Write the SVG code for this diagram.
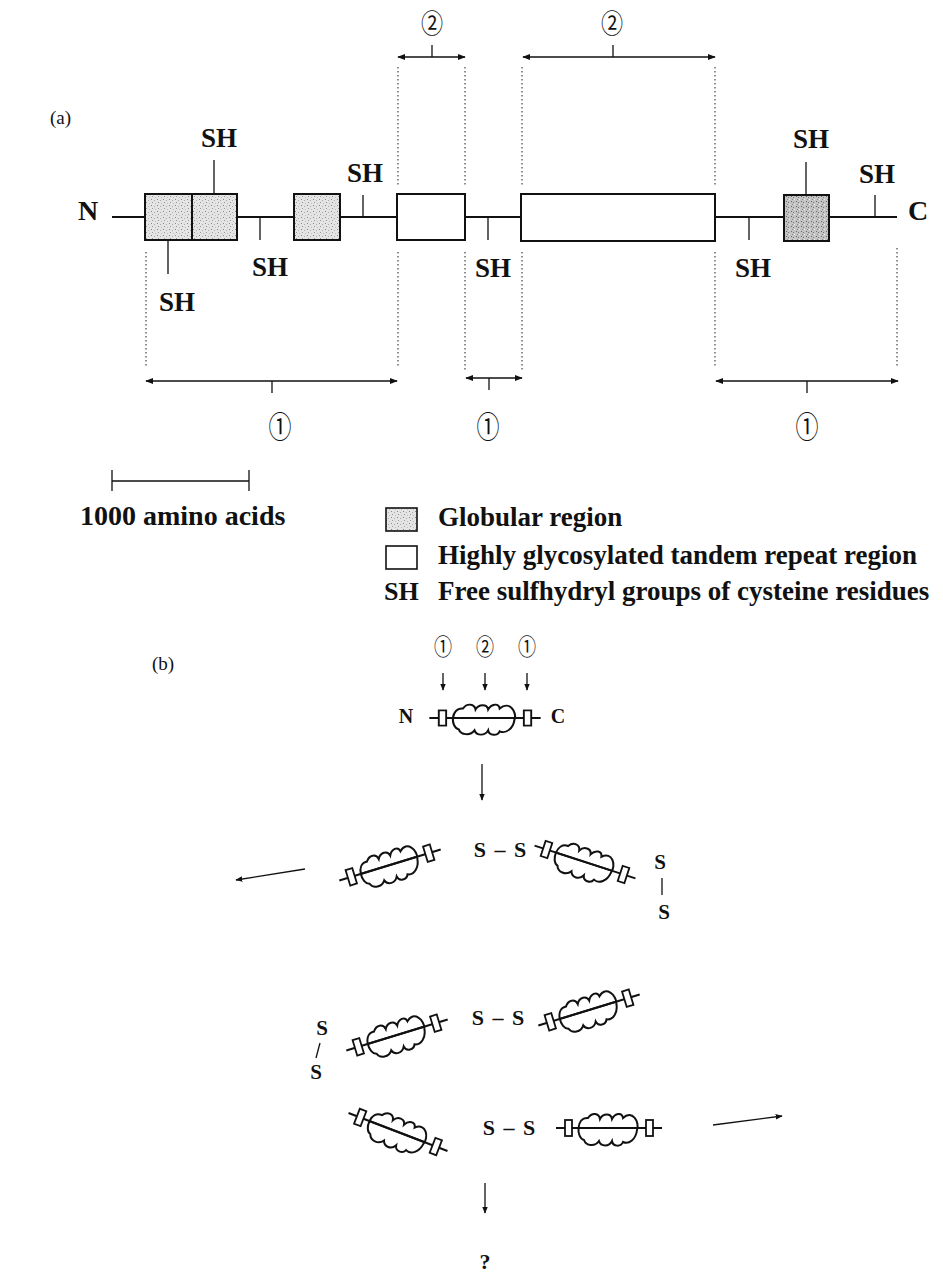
<svg xmlns="http://www.w3.org/2000/svg" xmlns:xlink="http://www.w3.org/1999/xlink" width="943" height="1284" viewBox="0 0 943 1284">
<style>
.b{font-family:"Liberation Serif","Noto Sans CJK JP",serif;font-weight:bold;fill:#111}
.r{font-family:"Liberation Serif","Noto Sans CJK JP",serif;fill:#111}
.sh{font-size:27px;text-anchor:middle}
.ln{stroke:#111;stroke-width:2;fill:none}
.thin{stroke:#111;stroke-width:1.3;fill:none}
.dot{stroke:#333;stroke-width:1.1;stroke-dasharray:1.5 2.5;fill:none}
.box{stroke:#111;stroke-width:2}
.ar{stroke:#111;stroke-width:1.6;fill:none;marker-start:url(#ah);marker-end:url(#ah)}
.ar1{stroke:#111;stroke-width:1.3;fill:none;marker-end:url(#ah2)}
.circ{font-family:"Noto Sans CJK JP","Liberation Serif",serif;fill:#111;text-anchor:middle}
.ss{font-size:22px;text-anchor:middle;word-spacing:3px}
</style>
<defs>
<pattern id="stip" width="6" height="6" patternUnits="userSpaceOnUse">
<rect width="6" height="6" fill="#e4e4e4"/>
<rect x="1" y="1" width="1" height="1" fill="#888"/>
<rect x="4" y="2" width="1" height="1" fill="#aaa"/>
<rect x="2" y="4" width="1" height="1" fill="#999"/>
<rect x="5" y="5" width="1" height="1" fill="#bbb"/>
</pattern>
<pattern id="stipd" width="5" height="5" patternUnits="userSpaceOnUse">
<rect width="5" height="5" fill="#c4c4c4"/>
<rect x="1" y="1" width="1" height="1" fill="#666"/>
<rect x="3" y="2" width="1" height="1" fill="#777"/>
<rect x="2" y="4" width="1" height="1" fill="#888"/>
<rect x="4" y="4" width="1" height="1" fill="#eee"/>
</pattern>
<marker id="ah" viewBox="0 0 10 10" refX="9" refY="5" markerWidth="8" markerHeight="8" markerUnits="userSpaceOnUse" orient="auto-start-reverse">
<path d="M0,1 L10,5 L0,9 Z" fill="#111"/>
</marker>
<marker id="ah2" viewBox="0 0 10 10" refX="9" refY="5" markerWidth="7" markerHeight="7" markerUnits="userSpaceOnUse" orient="auto">
<path d="M0,1 L10,5 L0,9 Z" fill="#111"/>
</marker>
<g id="mol">
<line x1="-53" y1="0" x2="53" y2="0" class="ln"/>
<rect x="-44" y="-8" width="7" height="16" fill="#fff" class="box" style="stroke-width:1.8"/>
<rect x="37" y="-8" width="7" height="16" fill="#fff" class="box" style="stroke-width:1.8"/>
<path d="M-21,-10 C-17,-16 -10,-15 -9,-9 C-6,-15 2,-15 3,-9 C6,-15 13,-16 14,-10 C23,-19 31,-6 28,2 C27,11 20,17 14,14 C12,19 4,19 3,13 C0,19 -8,19 -10,13 C-14,19 -23,18 -25,12 C-33,10 -33,-11 -21,-10 Z" fill="none" stroke="#111" stroke-width="2"/>
<line x1="-30" y1="0" x2="28" y2="0" class="ln"/>
</g>
</defs>
<rect width="943" height="1284" fill="#fff"/>

<!-- Part (a) -->
<text class="r" x="50" y="124" font-size="19">(a)</text>

<g id="connectors-a">
<path class="ln" d="M112,217 H897"/>
<path class="thin" d="M214,160 V194 M168,240 V274 M260,217 V240 M363,195 V217 M488,217 V240 M749,217 V240 M806,162 V195 M875,195 V217"/>
<path class="dot" d="M398,67 V186 M465,67 V186 M522,67 V186 M715,67 V186"/>
<path class="dot" d="M146,252 V368 M398,252 V368 M465,252 V370 M522,252 V370 M715,252 V368 M897,248 V368"/>
<path class="ar" d="M398,57 H465"/><path class="thin" d="M432,45 V57"/>
<path class="ar" d="M523,57 H715"/><path class="thin" d="M613,45 V57"/>
<path class="ar" d="M146,381 H397"/><path class="thin" d="M272,381 V393"/>
<path class="ar" d="M466,378 H522"/><path class="thin" d="M489,378 V390"/>
<path class="ar" d="M716,381 H898"/><path class="thin" d="M807,381 V393"/>
</g>

<g id="n-terminus"><text class="b" x="88" y="220" font-size="28" text-anchor="middle">N</text></g>
<g id="c-terminus"><text class="b" x="918" y="220" font-size="28" text-anchor="middle">C</text></g>
<g id="globular-1"><rect class="box" x="145" y="194" width="47" height="46" fill="url(#stip)"/><rect class="box" x="192" y="194" width="45" height="46" fill="url(#stip)"/></g>
<g id="globular-2"><rect class="box" x="294" y="194" width="46" height="46" fill="url(#stip)"/></g>
<g id="repeat-1"><rect class="box" x="397" y="194" width="68" height="46" fill="#fff"/></g>
<g id="repeat-2"><rect class="box" x="521" y="194" width="194" height="47" fill="#fff"/></g>
<g id="globular-3"><rect class="box" x="784" y="195" width="45" height="46" fill="url(#stipd)"/></g>

<g id="sh-labels">
<text class="b sh" x="219" y="147">SH</text>
<text class="b sh" x="177" y="311">SH</text>
<text class="b sh" x="270" y="276">SH</text>
<text class="b sh" x="365" y="182">SH</text>
<text class="b sh" x="493" y="277">SH</text>
<text class="b sh" x="753" y="277">SH</text>
<text class="b sh" x="811" y="148">SH</text>
<text class="b sh" x="877" y="183">SH</text>
</g>

<g id="region-labels">
<text class="circ" transform="translate(432,33) scale(0.92,1.1)" font-size="24">②</text>
<text class="circ" transform="translate(612,33) scale(0.92,1.1)" font-size="24">②</text>
<text class="circ" transform="translate(280,438) scale(0.92,1.22)" font-size="25">①</text>
<text class="circ" transform="translate(488,438) scale(0.92,1.22)" font-size="25">①</text>
<text class="circ" transform="translate(807,438) scale(0.92,1.22)" font-size="25">①</text>
</g>

<g id="scale-bar">
<path class="thin" d="M112,481 H249 M112,470 V491 M249,470 V491"/>
<text class="b" x="80" y="525" font-size="28">1000 amino acids</text>
</g>

<g id="legend">
<rect class="box" x="386" y="508" width="31" height="23" fill="url(#stip)" style="stroke-width:1.6"/>
<text class="b" x="438" y="526" font-size="27">Globular region</text>
<rect class="box" x="386" y="546" width="31" height="23" fill="#fff" style="stroke-width:1.6"/>
<text class="b" x="438" y="564" font-size="27">Highly glycosylated tandem repeat region</text>
<text class="b" x="384" y="600" font-size="26">SH</text>
<text class="b" x="438" y="600" font-size="27">Free sulfhydryl groups of cysteine residues</text>
</g>

<!-- Part (b) -->
<text class="r" x="152" y="670" font-size="19">(b)</text>

<g id="connectors-b">
<path class="ar1" d="M443,673 V690"/>
<path class="ar1" d="M485,673 V690"/>
<path class="ar1" d="M527,673 V690"/>
<path class="ar1" d="M482,764 V800"/>
<path class="ar1" d="M305,869 L236,880"/>
<path class="ar1" d="M713,1125 L782,1116"/>
<path class="ar1" d="M485,1183 V1213"/>
<path class="thin" d="M662,878 V895"/>
<path class="thin" d="M320,1043 L316,1058"/>
</g>

<g id="b-labels">
<text class="circ" transform="translate(443,655) scale(0.95,1.2)" font-size="19">①</text>
<text class="circ" transform="translate(485,655) scale(0.95,1.2)" font-size="19">②</text>
<text class="circ" transform="translate(527,655) scale(0.95,1.2)" font-size="19">①</text>
</g>

<g id="monomer">
<text class="b" x="406" y="723" font-size="20" text-anchor="middle">N</text>
<use xlink:href="#mol" href="#mol" transform="translate(485,718) scale(1.05,0.95)"/>
<text class="b" x="558" y="723" font-size="20" text-anchor="middle">C</text>
</g>

<g id="mol-a"><use href="#mol" xlink:href="#mol" transform="translate(390,865) rotate(-17)"/></g>
<g id="ss-1"><text class="b ss" x="500" y="857">S – S</text></g>
<g id="mol-b"><use href="#mol" xlink:href="#mol" transform="translate(585,862) rotate(18)"/></g>
<g id="ss-2"><text class="b" x="660" y="869" font-size="21" text-anchor="middle">S</text><text class="b" x="664" y="919" font-size="21" text-anchor="middle">S</text></g>
<g id="mol-c"><use href="#mol" xlink:href="#mol" transform="translate(589,1010) rotate(-17)"/></g>
<g id="ss-3"><text class="b ss" x="498" y="1025">S – S</text></g>
<g id="mol-d"><use href="#mol" xlink:href="#mol" transform="translate(397,1035) rotate(-17)"/></g>
<g id="ss-4"><text class="b" x="322" y="1035" font-size="21" text-anchor="middle">S</text><text class="b" x="316" y="1079" font-size="21" text-anchor="middle">S</text></g>
<g id="mol-e"><use href="#mol" xlink:href="#mol" transform="translate(398,1132) rotate(21)"/></g>
<g id="ss-5"><text class="b ss" x="509" y="1135">S – S</text></g>
<g id="mol-f"><use href="#mol" xlink:href="#mol" transform="translate(609,1128)"/></g>
<g id="unknown"><text class="b" x="485" y="1269" font-size="22" text-anchor="middle">?</text></g>
</svg>
